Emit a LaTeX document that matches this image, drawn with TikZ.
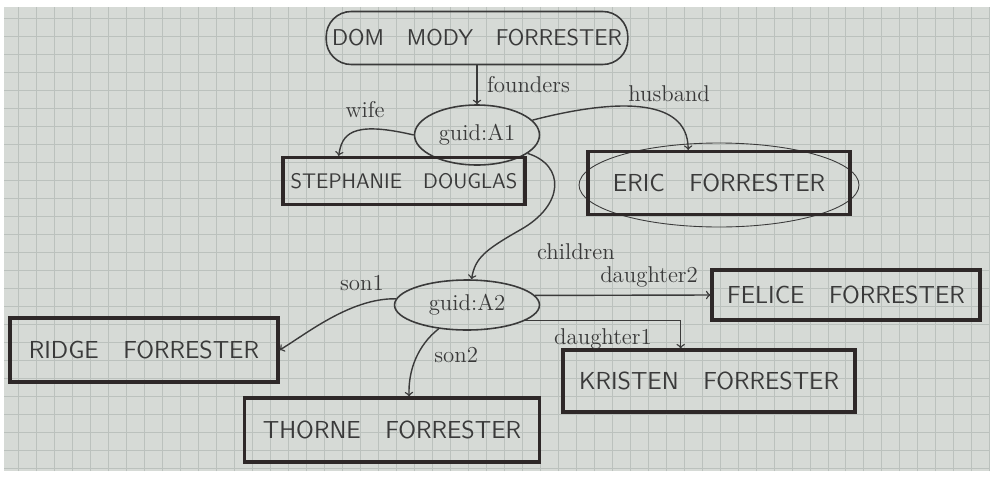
\documentclass[tikz,border=0pt]{standalone}
\usepackage{tikz}
\usetikzlibrary{arrows,shapes,positioning}

\definecolor{paper}{HTML}{D6DAD6}
\definecolor{gridline}{HTML}{BBC1BD}
\definecolor{ink}{HTML}{3A3A3A}
\definecolor{boxink}{HTML}{2E2828}

\tikzset{
  member/.style={draw=boxink, line width=1.8pt, inner sep=0pt, text=ink,
    font=\sffamily\fontsize{14}{16}\selectfont},
  guidnode/.style={ellipse, draw=ink, line width=0.9pt, inner sep=0pt, text=ink,
    font=\fontsize{13}{15}\selectfont},
  rel/.style={->, draw=ink, line width=0.8pt},
  lbl/.style={text=ink, font=\fontsize{13}{15}\selectfont}
}

\begin{document}
\begin{tikzpicture}[x=0.02cm,y=-0.02cm]
        \useasboundingbox (0,0) rectangle (996,477);
        \fill[white] (0,0) rectangle (996,477);
        \fill[paper] (4,7) rectangle (990,471);
        \begin{scope}
          \clip (4,7) rectangle (990,471);
          \draw[gridline, line width=0.4pt, step=0.36cm] (4,7) grid (990,471);
        \end{scope}

% root and the two guid nodes
\node[draw=ink, line width=0.9pt, rounded corners=0.5cm, minimum width=5.9cm, minimum height=1.06cm,
      text=ink, font=\sffamily\fontsize{13}{15}\selectfont] (dom) at (477,38) {DOM\quad MODY\quad FORRESTER};
\node[guidnode, minimum width=2.5cm, minimum height=1.2cm] (a1) at (477,135) {guid:A1};
\node[guidnode, minimum width=2.9cm, minimum height=1.0cm] (a2) at (467,305) {guid:A2};

% family members
\node[member, minimum width=4.84cm, minimum height=0.94cm,
      font=\sffamily\fontsize{12}{14}\selectfont] (steph) at (404,181) {STEPHANIE\quad DOUGLAS};
\draw[ink, line width=0.5pt] (719,185) ellipse (2.8cm and 0.84cm);
\node[member, minimum width=5.24cm, minimum height=1.26cm] (eric) at (719,183) {ERIC\quad FORRESTER};
\node[member, minimum width=5.36cm, minimum height=1.28cm] (ridge) at (144,350) {RIDGE\quad FORRESTER};
\node[member, minimum width=5.9cm, minimum height=1.28cm] (thorne) at (392,430) {THORNE\quad FORRESTER};
\node[member, minimum width=5.36cm, minimum height=1.0cm] (felice) at (846,295) {FELICE\quad FORRESTER};
\node[member, minimum width=5.84cm, minimum height=1.24cm] (kristen) at (709,381) {KRISTEN\quad FORRESTER};

% relations
\draw[rel] (dom) -- (a1) node[lbl, midway, right=2pt] {founders};
\draw[rel] (a1.west) .. controls (350,120) and (342,135) .. (steph.159)
      node[lbl, pos=0.35, above=3pt] {wife};
\draw[rel] (a1.15) .. controls (610,100) and (688,95) .. (eric.133)
      node[lbl, pos=0.7, above=4pt] {husband};
\draw[rel] (a1.-20) .. controls (565,165) and (565,205) .. (520,230)
      node[lbl, below right=4pt and 6pt] {children}
      .. controls (485,250) and (475,258) .. (a2.80);
\draw[rel] (a2.175) .. controls (350,298) and (305,335) .. (ridge.east)
      node[lbl, pos=0.25, above=4pt] {son1};
\draw[rel] (a2.220) .. controls (418,345) and (408,370) .. (thorne.63)
      node[lbl, pos=0.45, right=6pt] {son2};
\draw[rel] (a2.8) -- (felice.west) node[lbl, pos=0.65, above=1pt] {daughter2};
\draw[rel] (a2.-15) -| (kristen.131) node[lbl, pos=0.25, below=1pt] {daughter1};
\end{tikzpicture}
\end{document}
